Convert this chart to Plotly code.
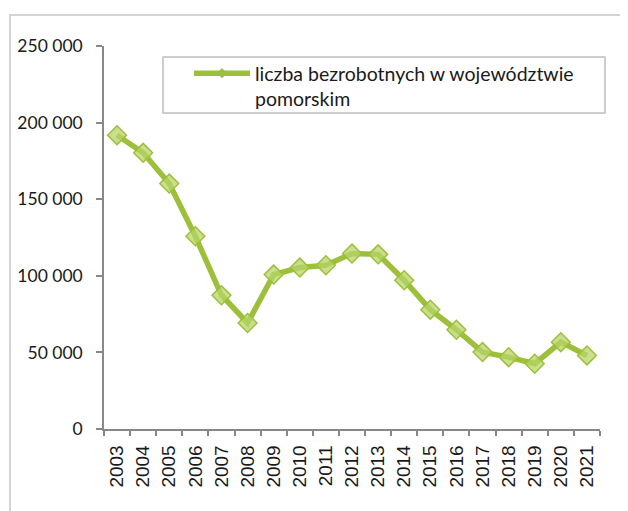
import plotly.graph_objects as go

years = ["2003", "2004", "2005", "2006", "2007", "2008", "2009", "2010", "2011", "2012",
         "2013", "2014", "2015", "2016", "2017", "2018", "2019", "2020", "2021"]
unemployed = [191800, 180300, 160200, 125800, 87300, 69200, 100800, 105400, 106900, 114500,
              114000, 97100, 77900, 64800, 50200, 46900, 42600, 56700, 48000]
y_tick_vals = [0, 50000, 100000, 150000, 200000, 250000]
y_tick_text = ["0", "50 000", "100 000", "150 000", "200 000", "250 000"]
series_name = "liczba bezrobotnych w województwie<br>pomorskim"

# page body has an 8px margin; figure drawn at (8,8)
OFF = 8
W, H = 628 - OFF, 511 - OFF
L, R, T, B = 96, 28, 38, 82
pw, ph = W - L - R, H - T - B

def fx(px):  # reference screen x -> paper
    return (px - OFF - L) / pw

def fy(py):  # reference screen y -> paper
    return (H - B - (py - OFF)) / ph

LINE = "#9dbf3a"

fig = go.Figure()
fig.add_trace(go.Scatter(
    x=years, y=unemployed, mode="lines+markers", showlegend=False,
    line=dict(color=LINE, width=5.5),
    marker=dict(symbol="diamond", size=14.5, color="rgba(184,212,104,0.75)",
                line=dict(color=LINE, width=1.5)),
))
fig.add_trace(go.Scatter(
    x=[None], y=[None], mode="lines+markers", name=series_name, showlegend=True,
    line=dict(color=LINE, width=5.5),
    marker=dict(symbol="diamond", size=7, color=LINE, line=dict(color=LINE, width=1)),
))

# chart border
fig.add_shape(type="rect", xref="paper", yref="paper",
              x0=fx(10), x1=fx(660), y0=fy(540), y1=fy(15),
              line=dict(color="#d4d4d4", width=2), fillcolor="rgba(0,0,0,0)", layer="below")
# legend border
fig.add_shape(type="rect", xref="paper", yref="paper",
              x0=fx(163), x1=fx(605), y0=fy(113), y1=fy(57),
              line=dict(color="#bfbfbf", width=1.5), fillcolor="white", layer="below")

fig.update_layout(
    width=W, height=H,
    margin=dict(l=L, r=R, t=T, b=B, pad=0, autoexpand=False),
    paper_bgcolor="white", plot_bgcolor="white",
    showlegend=True,
    legend=dict(x=fx(189), y=fy(54), xanchor="left", yanchor="top",
                borderwidth=0, bgcolor="rgba(0,0,0,0)",
                font=dict(family="Lato", size=19.5, color="#1a1a1a"),
                valign="top", itemwidth=56),
    xaxis=dict(type="category", showgrid=False, zeroline=False,
               showline=True, linecolor="#888888", linewidth=1.5,
               ticks="outside", ticklen=5, tickcolor="#888888", tickwidth=1.5,
               tickson="boundaries", tickangle=-90, ticklabelstandoff=7,
               tickfont=dict(family="Liberation Sans", size=19, color="#1a1a1a"),
               range=[-0.5, len(years) - 0.5], automargin=False),
    yaxis=dict(range=[0, 250000], tickvals=y_tick_vals, ticktext=y_tick_text,
               showgrid=False, zeroline=False,
               showline=True, linecolor="#888888", linewidth=1.5,
               ticks="outside", ticklen=6, tickcolor="#888888", tickwidth=1.5,
               ticklabelstandoff=10, automargin=False,
               tickfont=dict(family="Lato", size=17.5, color="#1a1a1a")),
)

fig.write_html("out.html")
